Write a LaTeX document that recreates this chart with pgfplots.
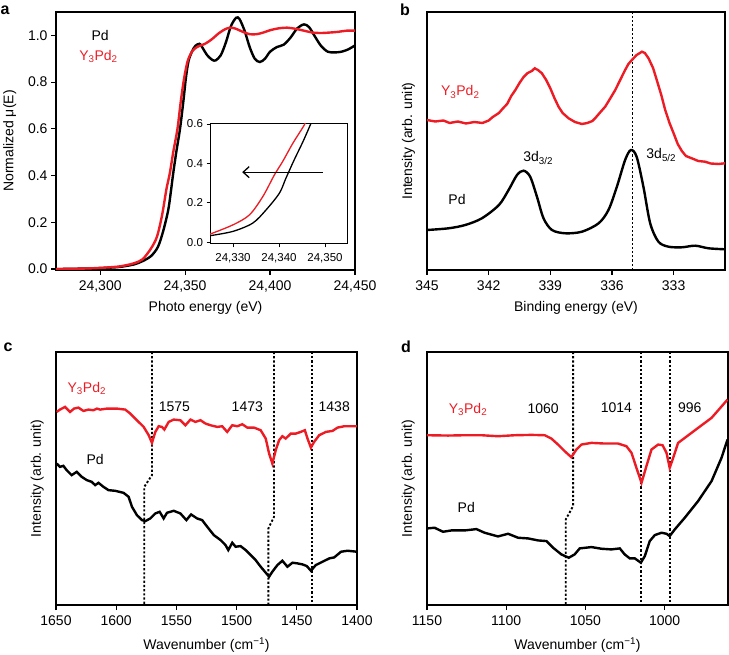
\documentclass[border=0pt]{standalone}
\usepackage{fontspec}
\setmainfont{Liberation Sans}
\usepackage{pgfplots}
\pgfplotsset{compat=1.18}
\usetikzlibrary{arrows.meta}
\definecolor{mred}{RGB}{237,28,36}
\tikzset{vdot/.style={black, line width=1.9pt, dash pattern=on 2.2pt off 2pt}}
\pgfplotsset{
  panel/.style={
    scale only axis, anchor=south west,
    axis line style={line width=1.3pt},
    every tick/.style={line width=1.2pt, black},
    tick align=outside, major tick length=5pt,
    xtick pos=bottom, ytick pos=left,
    font=\fontsize{14}{16}\selectfont,
    tick label style={font=\fontsize{14}{16}\selectfont},
    label style={font=\fontsize{14}{16}\selectfont},
    /pgf/number format/assume math mode=true,
    xticklabel style={yshift=-2pt},
    xlabel style={at={(axis description cs:0.5,-0.147)}, anchor=center},
  },
}
\begin{document}
\begin{tikzpicture}[x=1pt,y=1pt]
\useasboundingbox (0,0) rectangle (729,654);
% ---------------- panel a ----------------
\begin{axis}[panel, at={(56pt,384pt)}, width=299pt, height=258pt,
  xmin=24274, xmax=24450, ymin=-0.004, ymax=1.1,
  xtick={24300,24350,24400,24450},
  ytick={0,0.2,0.4,0.6,0.8,1.0},
  scaled x ticks=false,
  xticklabel style={/pgf/number format/fixed, /pgf/number format/1000 sep={,}},
  yticklabel style={/pgf/number format/fixed, /pgf/number format/fixed zerofill, /pgf/number format/precision=1},
  xlabel={Photo energy (eV)},
  ylabel={Normalized μ(E)},
  ylabel style={at={(axis description cs:-0.155,0.5)}, anchor=center},
]
\addplot[black, line width=2.4pt, smooth] coordinates {
(24274,0.0)(24290,0.002)(24300,0.004)(24310,0.008)(24315,0.013)(24320,0.02)
(24325,0.034)(24330,0.056)(24334,0.095)(24337,0.16)(24340,0.25)(24341.5,0.325)
(24343,0.41)(24345,0.51)(24347,0.6)(24349,0.72)(24350.5,0.82)(24352,0.89)
(24354,0.93)(24356,0.955)(24358.5,0.964)(24360,0.95)(24363,0.915)(24366,0.895)
(24368,0.893)(24371,0.915)(24374,0.97)(24377,1.04)(24380,1.075)(24382,1.07)
(24385,1.02)(24388,0.95)(24391,0.9)(24394,0.886)(24397,0.9)(24400,0.93)
(24404,0.95)(24408,0.96)(24412,0.99)(24416,1.03)(24420,1.047)(24423,1.035)
(24426,1.0)(24430,0.955)(24434,0.93)(24438,0.927)(24442,0.93)(24446,0.94)(24450,0.957)};
\addplot[mred, line width=2.4pt, smooth] coordinates {
(24274,0.0)(24290,0.002)(24300,0.005)(24310,0.01)(24315,0.016)(24320,0.025)
(24325,0.042)(24330,0.089)(24333.5,0.14)(24336.5,0.233)(24339,0.342)(24341,0.41)
(24343,0.5)(24345.5,0.6)(24347.5,0.72)(24349.5,0.82)(24351.5,0.89)(24354,0.93)
(24357,0.95)(24362,0.965)(24366,0.985)(24370,1.01)(24374,1.028)(24377,1.033)
(24380,1.028)(24384,1.015)(24388,1.005)(24392,1.005)(24396,1.012)(24400,1.022)
(24405,1.03)(24410,1.033)(24415,1.028)(24420,1.02)(24425,1.012)(24430,1.01)
(24435,1.012)(24440,1.015)(24445,1.02)(24450,1.02)};
\node[black] at (axis cs:24300,1.0) {Pd};
\node[mred] at (axis cs:24299,0.91) {Y\textsubscript{3}Pd\textsubscript{2}};
\end{axis}
% inset
\begin{axis}[panel, at={(210pt,410pt)}, width=138pt, height=120pt,
  xmin=24325, xmax=24355, ymin=-0.008, ymax=0.6,
  xtick={24330,24340,24350}, ytick={0,0.2,0.4,0.6},
  axis background/.style={fill=white},
  axis line style={line width=1pt},
  every tick/.style={line width=0.9pt, black}, major tick length=3.5pt,
  tick label style={font=\fontsize{11.5}{13}\selectfont},
  xticklabel style={yshift=0pt},
  scaled x ticks=false,
  xticklabel style={/pgf/number format/fixed, /pgf/number format/1000 sep={,}},
  yticklabel style={/pgf/number format/fixed, /pgf/number format/fixed zerofill, /pgf/number format/precision=1},
]
\addplot[black, line width=1.3pt, smooth] coordinates {
(24325,0.034)(24330,0.056)(24334.3,0.098)(24337.2,0.165)(24340.1,0.25)(24341.5,0.325)
(24343.3,0.418)(24345.2,0.51)(24346.8,0.595)(24347.2,0.62)};
\addplot[mred, line width=1.3pt, smooth] coordinates {
(24325,0.042)(24330,0.089)(24333.6,0.14)(24336.5,0.233)(24339,0.342)(24340.8,0.41)
(24343,0.502)(24345.5,0.595)(24345.8,0.62)};
\draw[-{Straight Barb[length=6pt,width=11pt]}, line width=1.3pt] (axis cs:24349.5,0.356) -- (axis cs:24332,0.356);
\end{axis}
% ---------------- panel b ----------------
\begin{axis}[panel, at={(427pt,384pt)}, width=298pt, height=258pt,
  x dir=reverse, xmin=330.5, xmax=345, ymin=0, ymax=258,
  xtick={345,342,339,336,333}, ytick=\empty,
  xlabel={Binding energy (eV)},
  ylabel={Intensity (arb. unit)},
  ylabel style={at={(axis description cs:-0.062,0.5)}, anchor=center},
]
\draw[vdot] (axis cs:335.0,0) -- (axis cs:335.0,258);
\addplot[black, line width=2.4pt, smooth] coordinates {
(345,40)(343.95,41.7)(343.14,45)(342.33,51.7)(341.5,65)(341.03,80)(340.62,95)
(340.3,99.3)(339.98,93.3)(339.65,73.3)(339.33,51.7)(338.92,40)(338.27,36.7)
(337.46,38.3)(336.65,46.7)(336.17,60)(335.76,83.3)(335.36,110)(335.08,120)
(334.8,113.3)(334.47,83.3)(334.14,46.7)(333.74,28.3)(333.25,23.3)(332.6,22.7)
(331.95,24.3)(331.3,21.7)(330.5,20.7)};
\addplot[mred, line width=2.4pt] coordinates {
(345,150)(344.6,148.5)(344.2,149.5)(343.9,147)(343.5,148.5)(343.1,146.5)(342.7,148)
(342.3,147)(342.0,149.5)(341.8,153)(341.5,157)(341.3,161.7)(341.1,166)(340.9,174)
(340.7,180)(340.5,187)(340.3,193)(340.1,197)(339.9,199)(339.76,201.7)(339.6,200)
(339.41,196.7)(339.2,190)(339.0,181.7)(338.8,172)(338.6,163.3)(338.4,157)(338.11,151.7)
(337.8,148)(337.46,146)(337.2,147)(336.95,149)(336.82,151.7)(336.6,157)(336.33,163.3)
(336.1,171)(335.84,180)(335.6,190)(335.36,200)(335.2,206)(335.03,210)(334.8,215)
(334.54,218.3)(334.4,217)(334.22,211.7)(334.0,202)(333.82,190)(333.6,175)(333.41,160)
(333.2,147)(333.0,136.7)(332.8,126)(332.6,119)(332.4,114)(332.12,111.7)(331.8,109)
(331.47,108.3)(331.2,106.5)(330.82,106)(330.5,106.7)};
\node[mred] at (axis cs:343.38,178) {Y\textsubscript{3}Pd\textsubscript{2}};
\node[black] at (axis cs:343.54,70) {Pd};
\node[black] at (axis cs:339.59,112) {3d\textsubscript{3/2}};
\node[black] at (axis cs:333.6,115) {3d\textsubscript{5/2}};
\end{axis}
% ---------------- panel c ----------------
\begin{axis}[panel, at={(56pt,49pt)}, width=301pt, height=253pt,
  x dir=reverse, xmin=1400, xmax=1650, ymin=0, ymax=760,
  xtick={1650,1600,1550,1500,1450,1400}, ytick=\empty,
  xticklabel style={/pgf/number format/1000 sep={}},
  xlabel={Wavenumber (cm\textsuperscript{−1})},
  xlabel style={at={(axis description cs:0.5,-0.158)}, anchor=center},
  ylabel={Intensity (arb. unit)},
  ylabel style={at={(axis description cs:-0.062,0.5)}, anchor=center},
]
\draw[vdot] (axis cs:1570.3,760) -- (axis cs:1570.3,390) -- (axis cs:1576.7,355) -- (axis cs:1576.7,0);
\draw[vdot] (axis cs:1468.9,760) -- (axis cs:1468.9,265) -- (axis cs:1473.6,230) -- (axis cs:1473.6,0);
\draw[vdot] (axis cs:1437,760) -- (axis cs:1437,0);
\addplot[mred, line width=2.4pt] coordinates {
(1649.4,580)(1646.7,587)(1642.5,595)(1638.3,580)(1635,590)(1631.4,593)(1627.2,583)
(1623,587)(1618.9,585)(1616,590)(1613.3,587)(1607.8,590)(1599.4,590)(1592.5,587)
(1588.3,575)(1582.8,555)(1577.2,535)(1573,510)(1570.3,487)(1567.5,520)(1564.7,537)
(1562,535)(1560,527)(1556.4,550)(1552.2,557)(1546.7,555)(1542.5,540)(1538.3,557)
(1534.2,550)(1530,555)(1525.8,545)(1521.7,540)(1516.1,535)(1512,537)(1507.8,520)
(1503.6,540)(1499.4,537)(1495.3,543)(1491.1,533)(1485.6,533)(1480,525)(1475.8,500)
(1473,455)(1470.3,425)(1467.5,465)(1464.7,495)(1462,507)(1459.2,500)(1455,515)
(1450.8,515)(1446.7,520)(1443.3,525)(1441.1,500)(1438.3,473)(1435.6,490)(1431.4,510)
(1425.8,520)(1420.3,523)(1416.1,533)(1410.6,537)(1400,537)};
\addplot[black, line width=2.4pt] coordinates {
(1649.4,425)(1646.7,415)(1643.9,418)(1641.1,405)(1637,390)(1632.8,400)(1628.6,385)
(1624.4,375)(1620.3,370)(1617.5,360)(1614.7,367)(1610.6,355)(1606.4,345)(1600.8,343)
(1593.9,337)(1589.7,325)(1586.9,295)(1582.8,270)(1578.6,255)(1575.8,252)(1571.7,260)
(1567.5,275)(1563.9,280)(1560.6,260)(1557.8,277)(1552.2,283)(1546.7,275)(1541.7,255)
(1537.8,272)(1532.8,260)(1528.6,255)(1524.4,235)(1518.9,210)(1513.3,195)(1509.2,180)
(1506.9,165)(1503.6,187)(1500.8,175)(1496.7,177)(1492.5,165)(1488.3,150)(1484.2,135)
(1480,115)(1475.8,97)(1473,85)(1470.3,100)(1466.1,120)(1462,133)(1457.8,115)
(1453.6,127)(1449.4,125)(1445.3,122)(1441.7,117)(1438.3,103)(1434.2,120)(1428.6,130)
(1423,140)(1418.9,143)(1413.3,160)(1407.8,163)(1400,160)};
\node[mred] at (axis cs:1624.4,650) {Y\textsubscript{3}Pd\textsubscript{2}};
\node[black] at (axis cs:1551.7,597) {1575};
\node[black] at (axis cs:1491.1,597) {1473};
\node[black] at (axis cs:1418.9,597) {1438};
\node[black] at (axis cs:1617.5,437) {Pd};
\end{axis}
% ---------------- panel d ----------------
\begin{axis}[panel, at={(427pt,49pt)}, width=301pt, height=253pt,
  x dir=reverse, xmin=960, xmax=1150, ymin=0, ymax=760,
  xtick={1150,1100,1050,1000}, ytick=\empty,
  xticklabel style={/pgf/number format/1000 sep={}},
  xlabel={Wavenumber (cm\textsuperscript{−1})},
  xlabel style={at={(axis description cs:0.5,-0.158)}, anchor=center},
  ylabel={Intensity (arb. unit)},
  ylabel style={at={(axis description cs:-0.062,0.5)}, anchor=center},
]
\draw[vdot] (axis cs:1057.8,760) -- (axis cs:1057.8,297) -- (axis cs:1062.4,257) -- (axis cs:1062.4,0);
\draw[vdot] (axis cs:1015,760) -- (axis cs:1015,0);
\draw[vdot] (axis cs:996.7,760) -- (axis cs:996.7,0);
\addplot[mred, line width=2.4pt] coordinates {
(1150,510)(1136.7,509)(1126.2,510)(1115.7,510)(1105.2,507)(1094.6,510)(1084.1,511)
(1075.7,510)(1071.5,500)(1067.3,482)(1063.1,462)(1058.9,444)(1055.7,467)(1052.5,482)
(1046.2,487)(1037.8,485)(1029.4,485)(1024.1,477)(1020.9,457)(1017.8,412)(1014.6,367)
(1011.5,417)(1008.3,467)(1004.1,482)(1001.3,480)(998.8,457)(996.8,412)(994.6,442)
(991.5,487)(987.3,502)(978.9,532)(970.4,562)(960.3,617)};
\addplot[black, line width=2.4pt] coordinates {
(1150,230)(1145.2,232)(1139.9,220)(1134.6,224)(1126.2,224)(1118.8,228)(1113.6,217)
(1105.2,206)(1098.8,214)(1092.5,202)(1086.2,200)(1079.9,194)(1074.6,192)(1070.4,172)
(1065.2,152)(1060.5,142)(1056.8,152)(1053.6,170)(1046.2,174)(1039.9,169)(1033.6,167)
(1028.3,170)(1025.2,152)(1022,140)(1018.8,140)(1015,127)(1012.5,147)(1009.4,192)
(1006.2,210)(1002,217)(998.8,214)(996.8,207)(993.6,227)(987.3,262)(978.9,312)
(970.4,372)(964.1,442)(960.3,497)};
\node[mred] at (axis cs:1124.1,587) {Y\textsubscript{3}Pd\textsubscript{2}};
\node[black] at (axis cs:1076.7,590) {1060};
\node[black] at (axis cs:1030.4,592) {1014};
\node[black] at (axis cs:984.1,592) {996};
\node[black] at (axis cs:1125.2,292) {Pd};
\end{axis}
% panel letters
\node[font=\bfseries\fontsize{16}{18}\selectfont] at (5,644) {a};
\node[font=\bfseries\fontsize{16}{18}\selectfont] at (405,644) {b};
\node[font=\bfseries\fontsize{16}{18}\selectfont] at (8,307) {c};
\node[font=\bfseries\fontsize{16}{18}\selectfont] at (406,307) {d};
\end{tikzpicture}
\end{document}
